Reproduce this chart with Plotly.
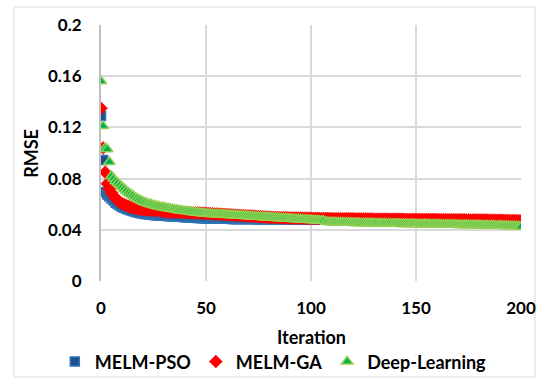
import plotly.graph_objects as go

iterations = list(range(0, 201))

melm_pso = [
    0.1290, 0.0945, 0.0695, 0.0675, 0.0660, 0.0645, 0.0628, 0.0612, 0.0600, 0.0589,
    0.0580, 0.0572, 0.0565, 0.0558, 0.0552, 0.0547, 0.0542, 0.0538, 0.0534, 0.0530,
    0.0527, 0.0524, 0.0522, 0.0520, 0.0518, 0.0516, 0.0514, 0.0512, 0.0511, 0.0510,
    0.0509, 0.0508, 0.0507, 0.0506, 0.0505, 0.0504, 0.0503, 0.0502, 0.0501, 0.0500,
    0.0499, 0.0498, 0.0497, 0.0496, 0.0495, 0.0494, 0.0493, 0.0492, 0.0491, 0.0490,
    0.0490, 0.0489, 0.0489, 0.0488, 0.0488, 0.0487, 0.0487, 0.0487, 0.0486, 0.0486,
    0.0486, 0.0486, 0.0485, 0.0485, 0.0485, 0.0485, 0.0485, 0.0484, 0.0484, 0.0484,
    0.0484, 0.0484, 0.0484, 0.0484, 0.0483, 0.0483, 0.0483, 0.0483, 0.0483, 0.0483,
    0.0483, 0.0483, 0.0482, 0.0482, 0.0482, 0.0482, 0.0482, 0.0482, 0.0482, 0.0482,
    0.0482, 0.0482, 0.0482, 0.0482, 0.0482, 0.0481, 0.0481, 0.0481, 0.0481, 0.0481,
    0.0481, 0.0481, 0.0481, 0.0481, 0.0481, 0.0481, 0.0481, 0.0481, 0.0481, 0.0481,
    0.0480, 0.0480, 0.0480, 0.0480, 0.0480, 0.0480, 0.0480, 0.0480, 0.0480, 0.0480,
    0.0479, 0.0479, 0.0479, 0.0479, 0.0479, 0.0478, 0.0478, 0.0478, 0.0478, 0.0478,
    0.0477, 0.0477, 0.0477, 0.0476, 0.0476, 0.0476, 0.0476, 0.0475, 0.0475, 0.0475,
    0.0474, 0.0474, 0.0473, 0.0473, 0.0473, 0.0472, 0.0472, 0.0472, 0.0471, 0.0471,
    0.0470, 0.0470, 0.0469, 0.0469, 0.0468, 0.0468, 0.0467, 0.0467, 0.0466, 0.0466,
    0.0465, 0.0465, 0.0464, 0.0464, 0.0463, 0.0463, 0.0462, 0.0462, 0.0461, 0.0461,
    0.0460, 0.0460, 0.0459, 0.0459, 0.0458, 0.0458, 0.0457, 0.0457, 0.0456, 0.0456,
    0.0455, 0.0455, 0.0454, 0.0454, 0.0453, 0.0453, 0.0452, 0.0452, 0.0451, 0.0451,
    0.0450, 0.0450, 0.0449, 0.0449, 0.0448, 0.0448, 0.0447, 0.0447, 0.0446, 0.0446,
    0.0445,
]

melm_ga = [
    0.1350, 0.1040, 0.0850, 0.0760, 0.0720, 0.0690, 0.0665, 0.0645, 0.0628, 0.0615,
    0.0605, 0.0597, 0.0590, 0.0584, 0.0578, 0.0573, 0.0569, 0.0566, 0.0563, 0.0561,
    0.0559, 0.0557, 0.0556, 0.0555, 0.0554, 0.0553, 0.0552, 0.0551, 0.0550, 0.0549,
    0.0541, 0.0540, 0.0540, 0.0539, 0.0539, 0.0538, 0.0538, 0.0537, 0.0537, 0.0536,
    0.0535, 0.0534, 0.0534, 0.0533, 0.0533, 0.0532, 0.0532, 0.0531, 0.0530, 0.0529,
    0.0528, 0.0527, 0.0526, 0.0525, 0.0524, 0.0523, 0.0522, 0.0521, 0.0520, 0.0519,
    0.0518, 0.0517, 0.0516, 0.0515, 0.0514, 0.0513, 0.0512, 0.0511, 0.0510, 0.0509,
    0.0508, 0.0507, 0.0506, 0.0505, 0.0504, 0.0503, 0.0502, 0.0501, 0.0500, 0.0499,
    0.0498, 0.0497, 0.0497, 0.0496, 0.0496, 0.0495, 0.0495, 0.0494, 0.0494, 0.0493,
    0.0493, 0.0492, 0.0492, 0.0492, 0.0491, 0.0491, 0.0491, 0.0490, 0.0490, 0.0490,
    0.0490, 0.0489, 0.0489, 0.0489, 0.0489, 0.0488, 0.0488, 0.0488, 0.0488, 0.0488,
    0.0487, 0.0487, 0.0487, 0.0487, 0.0487, 0.0486, 0.0486, 0.0486, 0.0486, 0.0486,
    0.0486, 0.0485, 0.0485, 0.0485, 0.0485, 0.0484, 0.0484, 0.0484, 0.0484, 0.0484,
    0.0483, 0.0483, 0.0483, 0.0483, 0.0483, 0.0483, 0.0483, 0.0482, 0.0482, 0.0482,
    0.0482, 0.0482, 0.0482, 0.0482, 0.0482, 0.0481, 0.0481, 0.0481, 0.0481, 0.0481,
    0.0481, 0.0481, 0.0481, 0.0480, 0.0480, 0.0480, 0.0480, 0.0480, 0.0480, 0.0480,
    0.0480, 0.0479, 0.0479, 0.0479, 0.0479, 0.0479, 0.0479, 0.0479, 0.0478, 0.0478,
    0.0478, 0.0478, 0.0478, 0.0478, 0.0477, 0.0477, 0.0477, 0.0477, 0.0477, 0.0476,
    0.0476, 0.0476, 0.0476, 0.0476, 0.0475, 0.0475, 0.0475, 0.0475, 0.0474, 0.0474,
    0.0474, 0.0474, 0.0473, 0.0473, 0.0473, 0.0472, 0.0472, 0.0472, 0.0471, 0.0471,
    0.0470,
]

deep_learning = [
    0.1560, 0.1210, 0.1040, 0.1030, 0.0930, 0.0820, 0.0800, 0.0780, 0.0765, 0.0750,
    0.0735, 0.0720, 0.0705, 0.0692, 0.0680, 0.0668, 0.0656, 0.0645, 0.0636, 0.0628,
    0.0620, 0.0614, 0.0608, 0.0602, 0.0597, 0.0592, 0.0588, 0.0584, 0.0580, 0.0577,
    0.0574, 0.0571, 0.0568, 0.0565, 0.0562, 0.0559, 0.0556, 0.0553, 0.0550, 0.0548,
    0.0546, 0.0544, 0.0542, 0.0540, 0.0538, 0.0536, 0.0534, 0.0532, 0.0530, 0.0528,
    0.0526, 0.0525, 0.0524, 0.0523, 0.0522, 0.0521, 0.0520, 0.0519, 0.0518, 0.0517,
    0.0516, 0.0515, 0.0514, 0.0513, 0.0512, 0.0511, 0.0510, 0.0509, 0.0508, 0.0507,
    0.0506, 0.0505, 0.0504, 0.0503, 0.0502, 0.0501, 0.0500, 0.0499, 0.0498, 0.0497,
    0.0496, 0.0495, 0.0494, 0.0493, 0.0492, 0.0491, 0.0490, 0.0489, 0.0488, 0.0487,
    0.0486, 0.0485, 0.0484, 0.0483, 0.0482, 0.0481, 0.0480, 0.0479, 0.0478, 0.0477,
    0.0476, 0.0475, 0.0474, 0.0473, 0.0472, 0.0471, 0.0470, 0.0462, 0.0461, 0.0460,
    0.0459, 0.0459, 0.0458, 0.0458, 0.0457, 0.0457, 0.0456, 0.0456, 0.0455, 0.0455,
    0.0454, 0.0454, 0.0453, 0.0453, 0.0452, 0.0452, 0.0452, 0.0451, 0.0451, 0.0451,
    0.0450, 0.0450, 0.0450, 0.0449, 0.0449, 0.0449, 0.0448, 0.0448, 0.0448, 0.0448,
    0.0447, 0.0447, 0.0447, 0.0446, 0.0446, 0.0446, 0.0446, 0.0445, 0.0445, 0.0445,
    0.0444, 0.0444, 0.0444, 0.0443, 0.0443, 0.0443, 0.0443, 0.0442, 0.0442, 0.0442,
    0.0441, 0.0441, 0.0441, 0.0440, 0.0440, 0.0440, 0.0440, 0.0439, 0.0439, 0.0439,
    0.0438, 0.0438, 0.0438, 0.0437, 0.0437, 0.0437, 0.0437, 0.0436, 0.0436, 0.0436,
    0.0435, 0.0435, 0.0434, 0.0434, 0.0434, 0.0433, 0.0433, 0.0433, 0.0432, 0.0432,
    0.0431, 0.0431, 0.0430, 0.0430, 0.0429, 0.0429, 0.0428, 0.0428, 0.0427, 0.0426,
    0.0424,
]

x_ticks = [0, 50, 100, 150, 200]
y_ticks = [0, 0.04, 0.08, 0.12, 0.16, 0.2]
y_tick_text = ["0", "0.04", "0.08", "0.12", "0.16", "0.2"]

FONT = "Lato"
FS = 18

fig = go.Figure()
fig.add_trace(go.Scatter(
    x=iterations, y=melm_pso, mode="markers", name="MELM-PSO",
    marker=dict(symbol="square", size=9, color="#1F4E8C",
                line=dict(color="#2E75B6", width=1.5)),
))
fig.add_trace(go.Scatter(
    x=iterations, y=melm_ga, mode="markers", name="MELM-GA",
    marker=dict(symbol="diamond", size=10, color="#FF0000",
                line=dict(color="#FF0000", width=0.5)),
))
fig.add_trace(go.Scatter(
    x=iterations, y=deep_learning, mode="markers", name="Deep-Learning",
    marker=dict(symbol="triangle-up", size=10, color="#00B050",
                line=dict(color="#92D050", width=1.5)),
))

bold = dict(family=FONT, size=FS, color="#000000", weight="bold")
tick_bold = dict(family=FONT, size=17, color="#000000", weight="bold")

fig.update_layout(
    width=541, height=381,
    margin=dict(l=101, r=20, t=25, b=100, autoexpand=False),
    paper_bgcolor="white", plot_bgcolor="white",
    font=dict(family=FONT, size=FS, color="#000000"),
    showlegend=True,
    legend=dict(orientation="h", x=-0.11, xanchor="left", y=-0.316, yanchor="middle",
                font=bold, itemwidth=30, tracegroupgap=0, bgcolor="rgba(0,0,0,0)"),
    xaxis=dict(range=[0, 200], tickvals=x_ticks, ticktext=[str(v) for v in x_ticks],
               showgrid=True, gridcolor="#D9D9D9", gridwidth=1.5,
               zeroline=False, showline=False, ticks="", ticklabelstandoff=15,
               automargin=False, tickfont=tick_bold),
    yaxis=dict(range=[0, 0.2], tickvals=y_ticks, ticktext=y_tick_text,
               showgrid=True, gridcolor="#D9D9D9", gridwidth=1.5,
               zeroline=False, showline=True, linecolor="#BFBFBF", linewidth=2,
               ticks="", ticklabelstandoff=14, automargin=False, tickfont=tick_bold),
    annotations=[
        dict(text="RMSE", x=-0.167, y=0.5, xref="paper", yref="paper", showarrow=False,
             textangle=-90, font=bold, xanchor="center", yanchor="middle"),
        dict(text="Iteration", x=0.5, y=-0.219, xref="paper", yref="paper", showarrow=False,
             font=bold, xanchor="center", yanchor="middle"),
    ],
    shapes=[
        dict(type="rect", xref="paper", yref="paper", x0=-0.2071, x1=1.0333,
             y0=-0.375, y1=1.0703, line=dict(color="#D9D9D9", width=1), layer="below"),
    ],
)

fig.write_html(
    "out.html",
    config={"displayModeBar": False},
    post_script="document.body.style.margin='0';document.body.style.padding='0';",
)
